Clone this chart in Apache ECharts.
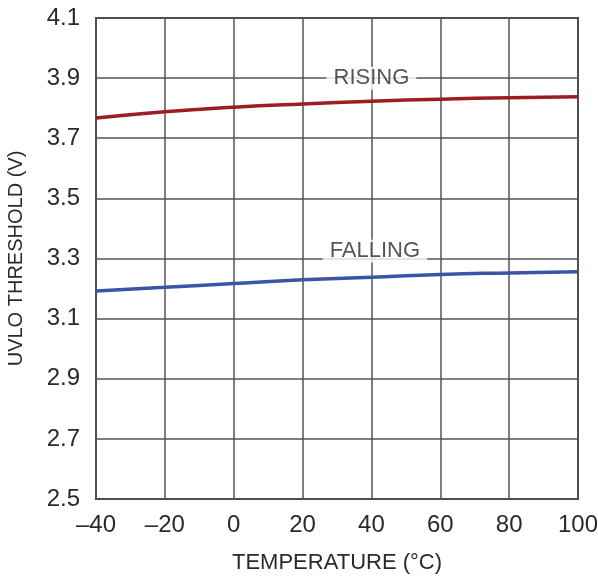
<!DOCTYPE html>
<html><head><meta charset="utf-8">
<script src="https://cdn.jsdelivr.net/npm/echarts@6/dist/echarts.min.js"></script>
<style>html,body{margin:0;padding:0;background:#fff}#c{width:598px;height:578px}</style>
</head><body><div id="c"></div>
<script>
const temps = [-40, -20, 0, 20, 40, 60, 80, 100];
const rising = [3.767, 3.788, 3.803, 3.814, 3.823, 3.830, 3.835, 3.838];
const falling = [3.192, 3.204, 3.217, 3.229, 3.238, 3.247, 3.252, 3.256];
const curveLabels = [
  {name: 'RISING', x: 40, y: 3.9},
  {name: 'FALLING', x: 41, y: 3.324}
];
const xTitle = 'TEMPERATURE (°C)';
const yTitle = 'UVLO THRESHOLD (V)';
const FONT = '"Liberation Sans Narrow", "Liberation Sans", Arial, sans-serif';
const chart = echarts.init(document.getElementById('c'));
chart.setOption({
  animation: false,
  grid: {left: 96, right: 20, top: 18, bottom: 79, show: true, borderColor: '#444', borderWidth: 2,
         containLabel: false, outerBoundsMode: 'none'},
  xAxis: {
    type: 'value', min: -40, max: 100, interval: 20,
    axisLine: {show: false}, axisTick: {show: false},
    splitLine: {show: true, lineStyle: {color: '#555', width: 1.5}},
    axisLabel: {color: '#2a2a2a', fontFamily: FONT, fontSize: 24, margin: 14,
      formatter: v => String(v).replace('-', '\u2013')},
    name: xTitle, nameLocation: 'middle', nameGap: 53,
    nameTextStyle: {color: '#2a2a2a', fontFamily: FONT, fontSize: 22}
  },
  yAxis: {
    type: 'value', min: 2.5, max: 4.1, interval: 0.2,
    axisLine: {show: false}, axisTick: {show: false},
    splitLine: {show: true, lineStyle: {color: '#555', width: 1.5}},
    axisLabel: {color: '#2a2a2a', fontFamily: FONT, fontSize: 24, margin: 16,
      formatter: v => v.toFixed(1)},
    name: yTitle, nameLocation: 'middle', nameGap: 70,
    nameTextStyle: {color: '#2a2a2a', fontFamily: FONT, fontSize: 20}
  },
  series: [
    {type: 'line', data: temps.map((t, i) => [t, rising[i]]), smooth: true, showSymbol: false,
     lineStyle: {color: '#9e1c22', width: 3.5}},
    {type: 'line', data: temps.map((t, i) => [t, falling[i]]), smooth: true, showSymbol: false,
     lineStyle: {color: '#3b55a6', width: 3.5}},
    {type: 'scatter', symbolSize: 0, z: 10,
     data: curveLabels.map(l => ({value: [l.x, l.y], name: l.name})),
     label: {show: true, position: 'inside', formatter: p => p.name,
       color: '#2a2a2a', fontFamily: FONT, fontSize: 22, backgroundColor: '#fff', padding: [1, 7, 0, 7]}}
  ]
});
</script></body></html>
